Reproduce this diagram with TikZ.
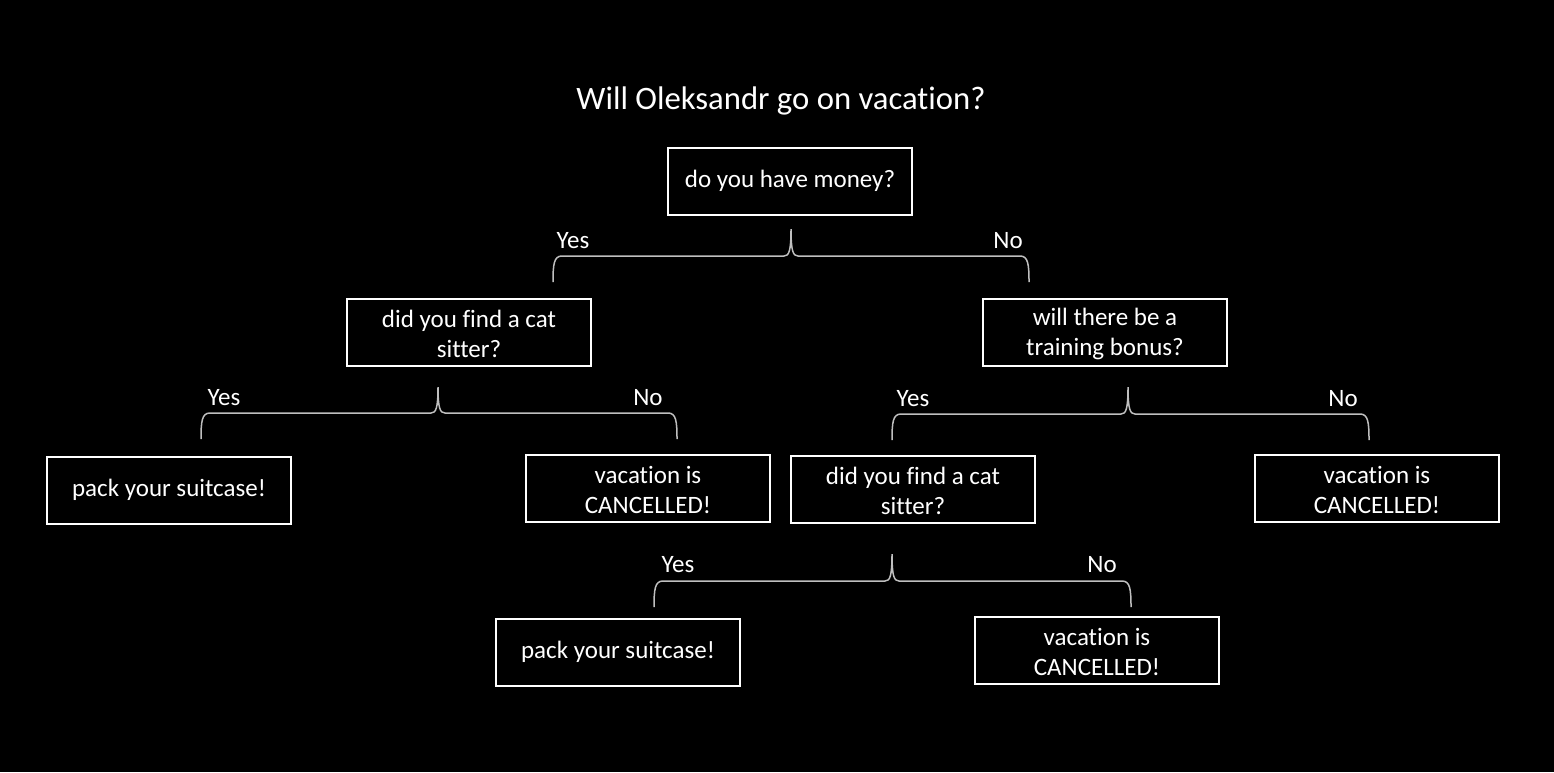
\documentclass[tikz,border=0pt]{standalone}
\usepackage{fontspec}
\setmainfont{Carlito}[Ligatures={NoCommon,NoContextual},RawFeature={-liga;-clig;-dlig}]
\begin{document}
\begin{tikzpicture}[x=1pt,y=-1pt,
  box/.style={draw=white, line width=2pt, minimum width=244pt, minimum height=67pt,
    align=center, text=white, inner sep=2pt, font=\fontsize{25}{30}\selectfont},
  lbl/.style={text=white, inner sep=0pt, font=\fontsize{25}{30}\selectfont},
  bracestyle/.style={draw=bracegray, line width=1.5pt}]
\definecolor{bracegray}{HTML}{BFBFBF}
\fill[black] (0,0) rectangle (1554,772);
\useasboundingbox (0,0) rectangle (1554,772);
\newcommand\bracedraw[5]{%
 \draw[bracestyle] (#3,#5+26) .. controls (#3,#5+8) and (#3+1,#5) .. (#3+9,#5)
   -- (#1-7,#5) .. controls (#1-2,#5) and (#1,#5-5) .. (#1,#2)
   .. controls (#1,#5-5) and (#1+2,#5) .. (#1+7,#5)
   -- (#4-9,#5) .. controls (#4-1,#5) and (#4,#5+8) .. (#4,#5+26);}
\newcommand\tl{\rule{0pt}{22pt}}

\node[text=white, font=\fontsize{32.7}{38}\selectfont] (title) at (781,101) {Will Oleksandr go on vacation?};

\node[box] (money) at (790,181) {do you have money?};
\node[box] (cat1) at (469,332) {\tl did you find a cat\\sitter?};
\node[box] (bonus) at (1105,332) {\tl will there be a\\training bonus?};
\node[box] (pack1) at (169,490) {pack your suitcase!};
\node[box] (canc1) at (648,488) {\tl vacation is\\CANCELLED!};
\node[box] (cat2) at (913,489) {\tl did you find a cat\\sitter?};
\node[box] (canc2) at (1377,488) {\tl vacation is\\CANCELLED!};
\node[box] (pack2) at (618,652) {pack your suitcase!};
\node[box] (canc3) at (1097,650) {\tl vacation is\\CANCELLED!};

\bracedraw{791}{229}{553}{1029}{256}
\bracedraw{438}{387}{201}{677}{413}
\bracedraw{1128}{387}{892}{1369}{414}
\bracedraw{892}{554}{654}{1131}{581}

\node[lbl] (y1) at (573,241) {Yes};
\node[lbl] (n1) at (1008,241) {No};
\node[lbl] (y2) at (224,398) {Yes};
\node[lbl] (n2) at (648,398) {No};
\node[lbl] (y3) at (913,399) {Yes};
\node[lbl] (n3) at (1343,399) {No};
\node[lbl] (y4) at (678,565) {Yes};
\node[lbl] (n4) at (1102,565) {No};
\end{tikzpicture}
\end{document}
